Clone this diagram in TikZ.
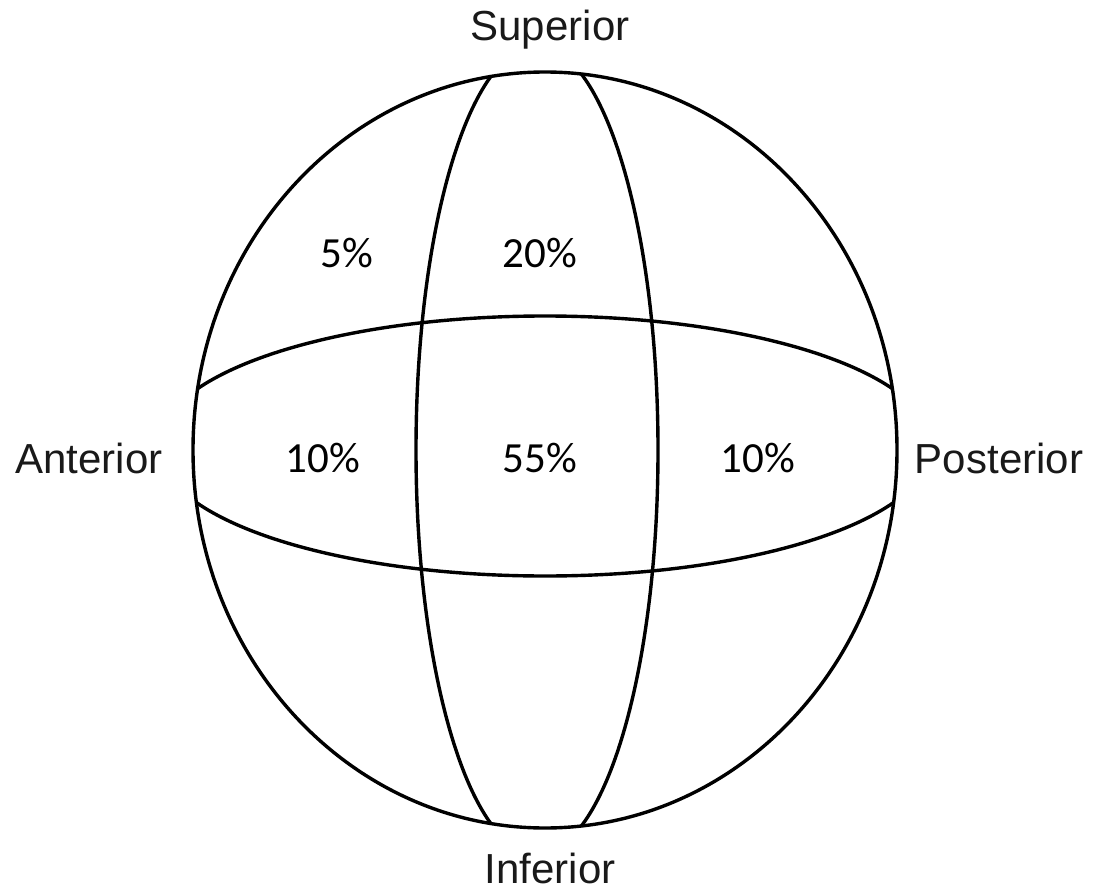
\documentclass[tikz,border=0pt]{standalone}
\usepackage{fontspec}
\setmainfont{Liberation Sans}
\newfontfamily\pctfont{Carlito}
\tikzset{
  ring/.style={draw=black, line width=3.4pt},
  dirlabel/.style={font=\fontsize{42}{50}\selectfont, text=black!90, inner sep=0pt},
  pct/.style={font=\pctfont\fontsize{43}{50}\selectfont, inner sep=0pt}
}
\begin{document}
\begin{tikzpicture}[x=1pt,y=-1pt]
\useasboundingbox (0,0) rectangle (1094,896);
\begin{scope}
  \clip (545,450) ellipse [x radius=352, y radius=378];
  % vertical lens
  \draw[ring] (537,450) ellipse [x radius=121, y radius=404];
  % horizontal lens
  \draw[ring] (545,446) ellipse [x radius=387, y radius=130];
\end{scope}
% outer sphere
\draw[ring] (545,450) ellipse [x radius=352, y radius=378];
% direction labels
\node[dirlabel] (sup) at (550,30) {Superior};
\node[dirlabel] (inf) at (550,868) {Inferior};
\node[dirlabel] (ant) at (89,458) {Anterior};
\node[dirlabel] (post) at (999,458) {Posterior};
% percentages
\node[pct] (p5) at (347,253) {5\%};
\node[pct] (p20) at (540,253) {20\%};
\node[pct] (p10a) at (323,458) {10\%};
\node[pct] (p55) at (540,458) {55\%};
\node[pct] (p10b) at (758,458) {10\%};
\end{tikzpicture}
\end{document}
